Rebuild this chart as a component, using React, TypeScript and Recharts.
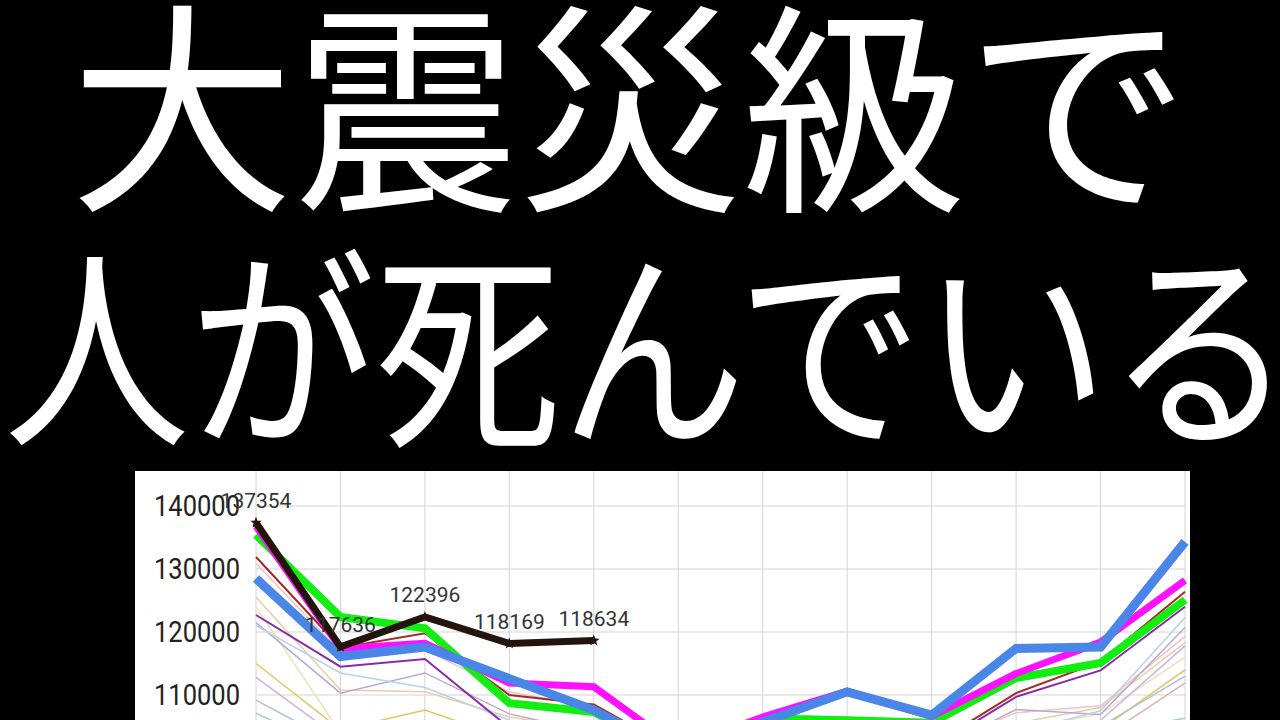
import React from 'react';
import { LineChart, Line, XAxis, YAxis, CartesianGrid, LabelList } from 'recharts';

// months (x categories) and y ticks
const months = ['1月', '2月', '3月', '4月', '5月', '6月', '7月', '8月', '9月', '10月', '11月', '12月'];
const yTicks = [80000, 90000, 100000, 110000, 120000, 130000, 140000, 150000];

// highlighted years
const y2023 = [137354, 117636, 122396, 118169, 118634, null, null, null, null, null, null, null];
const y2022 = [135400, 122400, 120600, 108700, 107300, 100000, 106300, 106000, 105600, 112700, 115100, 125100];
const y2021 = [136800, 117400, 118200, 111900, 111300, 101600, 106500, 110600, 106600, 113400, 118400, 128200];
const y2020 = [128500, 116100, 117600, 112600, 107600, 100500, 105700, 110500, 106800, 117400, 117600, 134300];
const y2019 = [131900, 117500, 119800, 110000, 108500, 101000, 102000, 103000, 102000, 110300, 115300, 126400];
const y2018 = [122700, 114500, 115700, 104800, 102000, 98000, 99500, 100500, 101500, 109700, 113900, 124000];

// older years, drawn thin and pale
const y2017 = [130900, 116800, 117200, 110500, 108000, 101000, 102000, 103500, 101500, 107200, 108300, 119300];
const y2016 = [125500, 110800, 110500, 106500, 104500, 99000, 100500, 101500, 100000, 105500, 108000, 118300];
const y2015 = [124000, 104000, 105500, 104000, 102500, 98000, 99500, 100500, 99000, 104500, 107000, 116000];
const y2014 = [121500, 110300, 113500, 107000, 104000, 99000, 101000, 103000, 101000, 107700, 106900, 120700];
const y2013 = [121000, 113500, 111200, 106000, 103000, 98500, 100000, 101000, 99500, 104000, 107500, 122300];
const y2012 = [115000, 104500, 107600, 103000, 101000, 96500, 98000, 99000, 97500, 102000, 104500, 114000];
const y2011 = [112800, 103000, 104500, 102500, 100500, 96000, 97500, 98500, 97000, 101500, 106000, 117800];
const y2010 = [109200, 102000, 103000, 101000, 99500, 95500, 97000, 98000, 96500, 101000, 105000, 113000];
const y2009 = [107100, 101000, 102000, 100000, 98500, 95000, 96500, 97500, 96000, 100000, 104000, 106300];
const y2008 = [106000, 100000, 101500, 99500, 98000, 94500, 96000, 97000, 95500, 99000, 103000, 111900];

const data = months.map((m, i) => ({
  month: m,
  y2023: y2023[i],
  y2022: y2022[i],
  y2021: y2021[i],
  y2020: y2020[i],
  y2019: y2019[i],
  y2018: y2018[i],
  y2017: y2017[i],
  y2016: y2016[i],
  y2015: y2015[i],
  y2014: y2014[i],
  y2013: y2013[i],
  y2012: y2012[i],
  y2011: y2011[i],
  y2010: y2010[i],
  y2009: y2009[i],
  y2008: y2008[i],
}));

const paleLines = [
  { key: 'y2017', color: '#f2bfca' },
  { key: 'y2016', color: '#ebcca4' },
  { key: 'y2015', color: '#eee0b6' },
  { key: 'y2014', color: '#b5abcb' },
  { key: 'y2013', color: '#b8d2ea' },
  { key: 'y2012', color: '#e2c55c' },
  { key: 'y2011', color: '#cdb2e4' },
  { key: 'y2010', color: '#a9c3d6' },
  { key: 'y2009', color: '#9fd4cd' },
  { key: 'y2008', color: '#d8b2ae' },
];

const YTick = (props: any) => {
  const { x, y, payload } = props;
  return (
    <text
      x={x}
      y={y}
      textAnchor="end"
      dominantBaseline="central"
      fontFamily="Roboto"
      fontSize={30}
      fill="#222"
      transform={`translate(${x} 0) scale(0.85 1) translate(${-x} 0)`}
    >
      {payload.value}
    </text>
  );
};

const StarDot = (props: any) => {
  const { cx, cy, index } = props;
  if (cx == null || cy == null || props.value == null) return null;
  const pts: string[] = [];
  for (let k = 0; k < 10; k++) {
    const r = k % 2 === 0 ? 6 : 2.5;
    const a = (Math.PI / 5) * k - Math.PI / 2;
    pts.push(`${cx + r * Math.cos(a)},${cy + r * Math.sin(a)}`);
  }
  return <polygon key={`star-${index}`} points={pts.join(' ')} fill="#24150c" />;
};

export default function App() {
  return (
    <div style={{ position: 'fixed', inset: 0, background: '#000', overflow: 'hidden' }}>
      <div
        style={{
          position: 'absolute',
          left: 70,
          top: -15,
          fontFamily: '"Noto Sans CJK JP"',
          fontSize: 224,
          lineHeight: 1,
          color: '#fff',
          whiteSpace: 'nowrap',
        }}
      >
        大震災級で
      </div>
      <div
        style={{
          position: 'absolute',
          left: 4,
          top: 230,
          fontFamily: '"Noto Sans CJK JP"',
          fontSize: 214,
          lineHeight: 1,
          color: '#fff',
          whiteSpace: 'nowrap',
          transform: 'scaleX(0.867)',
          transformOrigin: 'left top',
        }}
      >
        人が死んでいる
      </div>

      <div
        style={{
          position: 'absolute',
          left: 135,
          top: 471,
          width: 1055,
          height: 249,
          background: '#fff',
          overflow: 'hidden',
        }}
      >
        <div style={{ position: 'absolute', left: 0, top: -28 }}>
          <LineChart width={1055} height={471} data={data} margin={{ top: 0, right: 5, bottom: 0, left: 0 }}>
            <CartesianGrid stroke="#d4d4d4" strokeWidth={1} />
            <XAxis dataKey="month" height={30} tickLine={false} axisLine={false} interval={0} />
            <YAxis
              width={121}
              domain={[80000, 150000]}
              ticks={yTicks}
              tickLine={false}
              axisLine={false}
              tickMargin={10}
              tick={<YTick />}
              allowDataOverflow
            />
            {paleLines.map((p) => (
              <Line
                key={p.key}
                dataKey={p.key}
                stroke={p.color}
                strokeWidth={1.5}
                dot={false}
                isAnimationActive={false}
              />
            ))}
            <Line dataKey="y2018" stroke="#8a2aa8" strokeWidth={2} dot={false} isAnimationActive={false} />
            <Line dataKey="y2019" stroke="#a32a22" strokeWidth={2} dot={false} isAnimationActive={false} />
            <Line dataKey="y2022" stroke="#12ee12" strokeWidth={8} dot={false} isAnimationActive={false} />
            <Line dataKey="y2021" stroke="#ff10ff" strokeWidth={7} dot={false} isAnimationActive={false} />
            <Line dataKey="y2020" stroke="#4a86e8" strokeWidth={9} dot={false} isAnimationActive={false} />
            <Line
              dataKey="y2023"
              stroke="#24150c"
              strokeWidth={7}
              dot={<StarDot />}
              isAnimationActive={false}
            >
              <LabelList dataKey="y2023" position="top" offset={15} fontSize={21} fontFamily="Roboto" fill="#333" />
            </Line>
          </LineChart>
        </div>
      </div>
    </div>
  );
}
